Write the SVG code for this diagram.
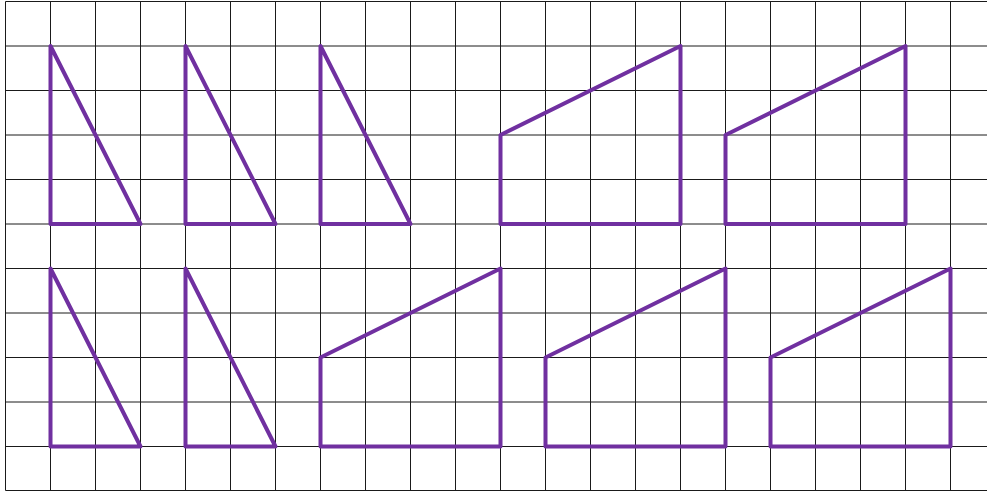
<svg xmlns="http://www.w3.org/2000/svg" width="987" height="493" viewBox="0 0 987 493">
<style>
.grid{stroke:#1a1a1a;stroke-width:1;fill:none}
.shape{stroke:#7030A0;stroke-width:4;fill:none;stroke-linejoin:round;stroke-linecap:round}
</style>
<rect width="987" height="493" fill="#fff"/>
<g id="grid">
<path class="grid" d="M5.5 1.5V490.5M50.5 1.5V490.5M95.5 1.5V490.5M140.5 1.5V490.5M185.5 1.5V490.5M230.5 1.5V490.5M275.5 1.5V490.5M320.5 1.5V490.5M365.5 1.5V490.5M410.5 1.5V490.5M455.5 1.5V490.5M500.5 1.5V490.5M545.5 1.5V490.5M590.5 1.5V490.5M635.5 1.5V490.5M680.5 1.5V490.5M725.5 1.5V490.5M770.5 1.5V490.5M815.5 1.5V490.5M860.5 1.5V490.5M905.5 1.5V490.5M950.5 1.5V490.5"/>
<path class="grid" d="M5.5 1.5H987M5.5 46H987M5.5 90.5H987M5.5 135H987M5.5 179.5H987M5.5 224H987M5.5 268.5H987M5.5 313H987M5.5 357.5H987M5.5 402H987M5.5 446.5H987M5.5 490.5H987"/>
</g>
<g id="connectors"></g>
<g id="tri1"><path class="shape" d="M50.5 46V224H140.5Z"/></g>
<g id="tri2"><path class="shape" d="M185.5 46V224H275.5Z"/></g>
<g id="tri3"><path class="shape" d="M320.5 46V224H410.5Z"/></g>
<g id="trap1"><path class="shape" d="M500.5 224V135L680.5 46V224Z"/></g>
<g id="trap2"><path class="shape" d="M725.5 224V135L905.5 46V224Z"/></g>
<g id="tri4"><path class="shape" d="M50.5 268.5V446.5H140.5Z"/></g>
<g id="tri5"><path class="shape" d="M185.5 268.5V446.5H275.5Z"/></g>
<g id="trap3"><path class="shape" d="M320.5 446.5V357.5L500.5 268.5V446.5Z"/></g>
<g id="trap4"><path class="shape" d="M545.5 446.5V357.5L725.5 268.5V446.5Z"/></g>
<g id="trap5"><path class="shape" d="M770.5 446.5V357.5L950.5 268.5V446.5Z"/></g>
</svg>
